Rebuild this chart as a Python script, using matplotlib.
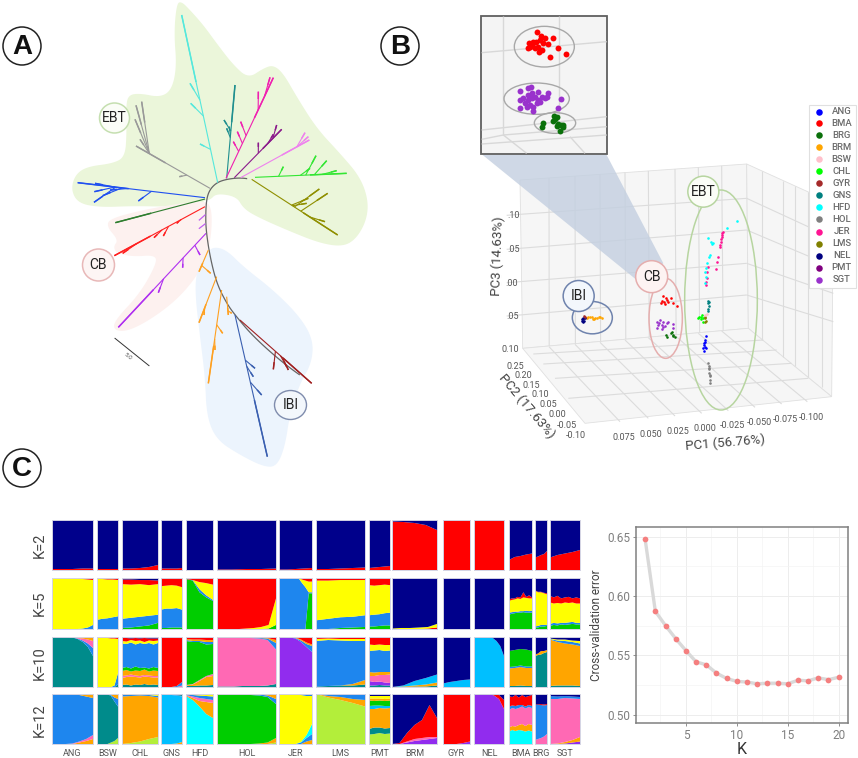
#!/usr/bin/env python3
"""Tree, 3D PCA view, admixture bars and CV error curve, redrawn in pixel space."""
import numpy as np
import matplotlib
matplotlib.use("Agg")
import matplotlib.pyplot as plt
from matplotlib.patches import Polygon, Circle, Ellipse, Rectangle
from matplotlib.collections import LineCollection

plt.rcParams["font.family"] = ["Roboto", "DejaVu Sans"]

GREEN_AREA = [(530,10),(545,5),(570,30),(610,75),(650,130),(700,195),(745,235),(790,205),(820,195),(850,220),
              (890,290),(950,385),(1020,460),(1080,530),(1105,600),(1100,660),(1070,715),(1030,740),(960,730),
              (860,690),(770,650),(730,625),(710,590),(650,580),(630,600),(615,600),(600,615),(500,620),(400,618),
              (300,622),(235,610),(213,570),(225,525),(260,500),(340,490),(375,470),(380,400),(378,320),(385,285),
              (420,280),(480,292),(515,270),(530,200),(522,100)]
PINK_AREA = [(610,600),(635,620),(635,700),(620,770),(590,830),(530,900),(450,960),(380,995),(340,990),(345,960),
             (420,880),(470,790),(465,765),(400,770),(350,760),(340,740),(355,720),(320,680),(330,655),(450,625)]
BLUE_AREA = [(640,740),(680,750),(730,800),(820,870),(900,950),(940,1020),(935,1090),(900,1150),(870,1240),
             (855,1340),(830,1400),(790,1400),(720,1365),(650,1320),(620,1250),(615,1130),(600,1010),(585,880),
             (590,810),(620,760)]
BACKBONE = [(755,538),(720,533),(678,538),(650,548),(630,568),(620,595),(617,640),(618,690),(630,770),(650,850),
            (680,910),(705,945),(760,1010),(850,1090),(935,1150)]
CLADE_COLORS = ["#55e8dc", "#1f8f8f", "#f020b0", "#8b1a8b", "#ee82ee", "#33e633", "#8f8f00", "#999999",
                "#2050f0", "#2e7d2e", "#ff2020", "#b030f0", "#ffa020", "#ffa020", "#ffa020", "#ffa020",
                "#3a5fb0", "#a02020"]
CLADE_ROOTS = [(653,548),(680,535),(678,535),(703,533),(722,533),(765,532),(755,538),(630,565),
               (615,593),(615,597),(615,620),(618,700),(625,750),(650,830),(665,870),(680,890),(705,945),(720,960)]
CLADE_TIPS = [
    [(545,45),(570,250),(572,310),(600,432)],
    [(705,255),(672,360),(680,385),(688,380)],
    [(820,233),(810,232),(775,275),(722,365),(712,395),(700,425)],
    [(845,388),(830,375),(820,403),(775,428)],
    [(928,420),(915,398),(925,410)],
    [(1040,520),(948,467),(980,482),(1010,512),(930,505),(850,500)],
    [(1013,705),(975,665),(983,580),(958,567),(925,595),(920,610)],
    [(408,438),(425,305),(408,316),(405,358),(420,418),(538,530)],
    [(233,548),(285,550),(283,575),(282,607),(308,587),(415,603),(330,570)],
    [(346,668)],
    [(343,767),(368,760),(462,713),(490,708),(530,670)],
    [(355,982),(475,878),(548,803),(600,765)],
    [(597,815),(632,820)],
    [(597,968),(612,945)],
    [(625,1150),(645,1050),(668,1000)],
    [(685,945),(695,940)],
    [(802,1370),(765,1105),(785,1185),(760,1130)],
    [(935,1150),(820,1108),(865,1110),(860,1100)],
]
SMALL_TWIGS = [((598,660),(615,645)), ((598,685),(615,672))]
SCALE_BAR = [(345,1015),(447,1097)]

# panel B
BOX_BACK = [(360,540),(1040,492),(1045,985),(368,1045)]
BOX_RIGHT = [(1040,492),(1300,610),(1295,1190),(1045,985)]
BOX_FLOOR = [(368,1045),(1045,985),(1295,1190),(555,1270)]
BACK_VERTICALS = [447,525,600,675,745,825,895,965]
BACK_LEVELS = [(643,595),(745,690),(845,790),(945,885)]
RIGHT_LEVELS = [(595,715),(690,800),(790,880),(885,965)]
RIGHT_VERTICALS = [1085,1150,1185,1225,1265]
FLOOR_ROWS = [((400,1062),(1090,1020)),((430,1092),(1130,1050)),((465,1135),(1175,1090)),((505,1195),(1225,1135))]
FLOOR_COLS = [((447,1040),(660,1265)),((525,1033),(745,1255)),((600,1027),(825,1248)),((675,1020),(905,1240)),
              ((745,1013),(985,1232)),((825,1006),(1065,1222)),((895,1000),(1145,1212)),((965,993),(1222,1205))]
Z_TICKS = [".10", ".05", ".00", ".05", "0.10"]
Z_TICK_POS = [(340,647),(340,750),(335,850),(338,950),(332,1048)]
Y_TICKS = ["0.25", "0.20", "0.15", "0.10", "0.05", "0.00", "-0.05", "-0.10"]
Y_TICK_POS = [(347,1100),(370,1128),(395,1156),(420,1184),(445,1214),(472,1244),(500,1275),(528,1308)]
X_TICKS = ["0.075", "0.050", "0.025", "0.000", "-0.025", "-0.050", "-0.075", "-0.100"]
X_TICK_POS = [(672,1313),(753,1303),(835,1295),(916,1285),(998,1277),(1078,1267),(1155,1260),(1235,1252)]

BREEDS = ["ANG","BMA","BRG","BRM","BSW","CHL","GYR","GNS","HFD","HOL","JER","LMS","NEL","PMT","SGT"]
BREED_COLORS = ["#0000ff","#ff0000","#0a700a","#ffa500","#ffc0cb","#00ff00","#a52a2a","#008080","#00ffff",
                "#808080","#ff1493","#808000","#000080","#800080","#9932cc"]
LEGEND_Y = [335,370,406,441,477,514,550,586,622,658,695,731,767,803,839]

PCA_POINTS = {
    "BRM": [(562,955),(570,952),(578,956),(585,953),(592,955),(600,950),(606,954),(575,950),(565,950),(582,957),(596,951)],
    "NEL": [(546,962),(550,958),(553,962),(548,955),(545,957),(555,955),(549,965)],
    "GYR": [(552,948),(556,951)],
    "BMA": [(790,888),(797,893),(785,903),(792,905),(800,900),(805,905),(782,908),(795,912),(812,895),(820,908),(830,917)],
    "SGT": [(770,965),(780,960),(790,965),(800,970),(775,975),(785,975),(795,978),(772,985),(785,987),(805,965),
            (820,972),(820,985),(778,968),(790,980)],
    "BRG": [(797,1005),(800,1010),(815,995),(812,1000),(820,1008),(825,1012),(818,1004)],
    "JER": [(968,695),(967,700),(966,705),(965,712),(964,718),(963,725),(961,735),(960,740),(955,770),(952,785),
            (947,808),(925,800),(922,815),(920,835),(919,845),(918,855)],
    "HFD": [(1010,662),(982,683),(925,715),(932,725),(938,728),(930,765),(926,770),(918,805),(915,815),(917,830),
            (915,850),(935,732),(921,790)],
    "GNS": [(925,902),(925,910),(926,918),(924,926),(923,932),(927,906)],
    "CHL": [(898,950),(905,945),(910,955),(902,958),(908,965),(895,955),(903,950)],
    "LMS": [(915,955),(917,962),(914,967),(916,950)],
    "BSW": [(920,942),(915,945)],
    "ANG": [(917,1008),(914,1020),(913,1030),(915,1040),(910,1045),(912,1052),(918,1045),(915,1026),(912,1036)],
    "HOL": [(925,1088),(926,1098),(927,1108),(928,1118),(930,1128),(931,1140),(931,1150),(926,1104),(929,1124)],
}
INSET_RED = [(411,95),(422,108),(400,125),(388,130),(384,145),(395,135),(408,125),(420,120),(430,130),(415,140),
             (425,150),(418,155),(405,145),(443,132),(458,115),(474,143),(497,163),(450,172),(435,115),(390,142)]
INSET_PURPLE = [(361,273),(385,265),(393,262),(383,285),(395,280),(415,275),(445,280),(484,296),(474,323),(360,300),
                (360,323),(375,310),(385,300),(395,295),(405,290),(415,300),(425,290),(435,295),(410,310),(400,320),
                (390,315),(400,332),(420,305),(440,290),(370,295),(380,320)]
INSET_GREEN = [(430,370),(425,380),(462,348),(470,352),(458,362),(465,358),(475,372),(482,376),(490,380),(480,392),
               (472,378),(490,375)]

# panel C
GROUPS = ["ANG","BSW","CHL","GNS","HFD","HOL","JER","LMS","PMT","BRM","GYR","NEL","BMA","BRG","SGT"]
GROUP_LEFT = [52,97,122,161,186,217,279,316,369,392,443,474,509,535,550]
GROUP_RIGHT = [93,118,158,182,213,276,312,365,390,437,470,504,532,547,580]
ROWS = ["K=2","K=5","K=10","K=12"]
ROW_TOP = [520,578,637,694]
ROW_BOTTOM = [570,629,687,744]
ROW_LABEL_Y = [545,603,663,720]
K_COLORS = dict(N="#00008b",R="#ff0000",Y="#ffff00",B="#1e86ee",G="#00cd00",T="#008b8b",P="#ff69b4",O="#ffa500",
                V="#912cee",S="#00bfff",C="#00ffff",L="#b3ee3a")
# colours bottom to top, then the level (%) where each band but the last ends, left to right
K2 = [("RN",[[2,2,2,3,3]]),("RN",[[3,3,3,3,3]]),("RN",[[3,3,4,6,10]]),("RN",[[3,3,3,3,4]]),("RN",[[1,1,1,1,1]]),
      ("RN",[[1,1,2,2,3]]),("RN",[[1,1,2,3,4]]),("RN",[[2,2,3,4,5]]),("RN",[[4,5,6,7,8]]),("RN",[[97,96,94,90,80]]),
      ("R",[]),("R",[]),("RN",[[20,26,28,31,33]]),("RN",[[25,27,30,32,38]]),("RN",[[25,30,33,36,40]])]
K5 = [("BYR",[[0,0,0,0,0,0,1,3,8],[100,100,100,100,99,99,98,97,96]]),
      ("BYR",[[18,20,21,23,25],[98,98,97,97,96]]),
      ("GBYRN",[[2,3,5,7,12],[20,22,24,26,28],[88,87,88,86,88],[97,97,96,96,95]]),
      ("GBYR",[[2,2,3,3,3],[38,40,40,41,38],[84,85,86,85,82]]),
      ("GBYR",[[98,95,72,62,55],[98,96,78,66,57],[98,96,92,90,87]]),
      ("GYR",[[0,0,0,0,0,0,0,1,8],[0,0,0,0,1,2,4,8,60]]),
      ("GBYR",[[0,0,0,0,0,0,0,0,0,70,70],[100,100,100,100,100,100,99,90,82,72,72],
               [100,100,100,100,100,100,100,97,95,93,93]]),
      ("GBYR",[[0,0,2,3,4],[17,20,23,24,27],[95,95,96,96,96]]),
      ("GBYRN",[[5,5,6,7,7],[27,28,29,31,32],[86,85,86,87,86],[98,98,98,99,99]]),
      ("RYN",[[0,0,0,0,1,3],[1,2,2,3,4,10]]),
      ("N",[]),("N",[]),
      ("GBYRN",[[28,30,31,32,32,33,32,32,32],[32,33,34,34,35,35,36,35,36],[55,57,58,60,59,62,61,60,60],
                [58,60,60,63,62,72,63,66,62]]),
      ("GBYRN",[[3,3,5,5,6],[5,6,8,8,8],[75,72,72,70,68],[76,73,73,71,70]]),
      ("GBYRN",[[6,8,7,9,8,9,10,9,9],[10,12,11,12,12,13,14,12,12],[52,50,51,50,52,51,52,50,50],
                [65,62,65,60,62,63,60,62,60]])]
K10 = [("TBPO",[[100,100,100,100,99,96,90,80,62],[100,100,100,100,99,97,93,87,78],[100,100,100,100,100,98,97,95,92]]),
       ("TBYR",[[0,0,0,0,0,0,5],[0,0,0,0,0,3,28],[98,98,98,98,97,97,96]]),
       ("TOPOGBYRN",[[4,5,3,5,4,6,4,5,4],[18,20,21,20,19,21,20,19,19],[22,23,25,23,22,24,23,22,22],
                     [32,34,31,33,32,35,31,33,32],[38,40,37,41,38,39,37,40,38],
                     [87,86,89,85,88,86,88,85,88],[92,91,94,92,93,90,93,92,93],[98,98,97,98,97,98,97,97,97]]),
       ("PBR",[[0,0,0,0,3],[0,0,0,2,10]]),
       ("TOPGBOR",[[2,2,3,3,4],[3,5,12,20,22],[4,6,14,22,26],[92,90,90,85,86],[94,92,92,90,90],[96,95,95,94,94]]),
       ("TPBOR",[[1,1,1,2,2,2,3,6],[98,98,98,98,98,97,94,75],[98,98,98,99,99,98,97,88],[99,99,99,99,99,99,98,94]]),
       ("VBOR",[[100,100,99,97,90,80,70],[100,100,100,98,93,86,82],[100,100,100,99,95,89,85]]),
       ("TOBYR",[[1,2,3,3,5],[1,2,3,6,14],[92,94,93,92,92],[96,97,96,96,96]]),
       ("TVPOBYRN",[[3,3,4,3,3],[12,10,11,9,8],[22,22,24,24,25],[30,29,30,30,30],[72,73,74,72,73],[85,84,85,84,84],
                    [98,98,98,98,98]]),
       ("TOSN",[[0,0,1,1,3],[0,1,3,5,9],[0,3,12,18,25]]),
       ("SN",[[7,10,12,14,15]]),
       ("SN",[[100,100,100,100,100,98,92,82,62]]),
       ("TOBGN",[[2,2,3,2,2],[37,38,40,38,38],[40,41,43,41,41],[72,74,76,75,72]]),
       ("TON",[[62,64,65,68,70],[65,67,72,72,74]]),
       ("TOBYN",[[2,3,3,3,2],[95,90,87,85,82],[96,93,92,90,87],[97,95,95,93,92]])]
K12 = [("OPBO",[[0,0,0,0,3,6,10],[0,0,0,1,5,10,18],[100,100,100,99,98,95,92]]),
       ("LTBO",[[0,0,0,0,3,6,12],[100,100,100,100,96,85,75],[100,100,100,100,98,93,90]]),
       ("LOBY",[[0,2,5,10,14],[95,96,97,96,93],[98,98,98,98,96]]),
       ("OSBT",[[0,0,0,1,4],[98,98,98,97,95],[99,99,99,98,96]]),
       ("COPBY",[[96,88,75,60,52],[97,92,86,84,82],[98,95,92,90,88],[99,98,97,96,95]]),
       ("LOGBO",[[0,0,0,0,0,0,0,3],[0,0,0,0,0,1,3,12],[99,99,99,99,98,97,94,80],[99,99,99,99,99,99,97,90]]),
       ("OBCYB",[[0,0,0,0,0,5,8],[0,0,0,0,3,12,20],[0,0,0,0,4,18,40],[100,100,100,100,98,96,96]]),
       ("LOB",[[100,93,88,82,75],[100,96,94,90,88]]),
       ("LTOSGOYN",[[19,20,22,20,21],[30,33,33,31,32],[70,70,72,71,72],[76,77,77,76,76],[87,86,87,86,87],
                    [91,91,91,90,91],[96,96,96,96,96]]),
       ("VPRN",[[0,0,3,6,8,10,12],[0,0,5,10,12,14,14],[0,2,22,38,48,78,52]]),
       ("VR",[[0,0,0,2,5]]),
       ("VRN",[[100,100,100,100,97,90,70],[100,100,100,100,99,98,88]]),
       ("COPBRN",[[25,28,26,28,27,25,27,25],[33,36,35,38,40,36,40,38],[68,72,70,72,75,71,74,72],
                  [75,77,76,78,78,75,78,76],[96,94,98,93,98,94,96,98]]),
       ("PBRN",[[8,10,12,15,20],[78,78,78,77,78],[79,79,80,79,80]]),
       ("VOPBN",[[0,0,1,3,5],[0,1,4,8,14],[90,90,92,91,90],[96,95,96,95,94]])]
K_PANELS = [K2, K5, K10, K12]

K_VALUES = list(range(1, 21))
CV_ERROR = [0.6475,0.587,0.575,0.564,0.554,0.5445,0.542,0.535,0.5305,0.528,0.5275,0.526,0.5265,0.5265,0.526,
            0.529,0.5285,0.531,0.5295,0.5315]


def a(pts):
    return [(x / 3, y / 3) for x, y in pts]


def b(pts):
    return [(400 + x / 3, y / 3) for x, y in pts]


def chaikin(pts, rounds=3, closed=True):
    p = np.array(pts, float)
    for _ in range(rounds):
        nxt = np.roll(p, -1, axis=0) if closed else p[1:]
        cur = p if closed else p[:-1]
        q, r = 0.75 * cur + 0.25 * nxt, 0.25 * cur + 0.75 * nxt
        p = np.empty((len(q) * 2, 2))
        p[0::2], p[1::2] = q, r
    return p


fig = plt.figure(figsize=(8.58, 7.58), dpi=100)
ax = fig.add_axes([0, 0, 1, 1])
ax.set_xlim(0, 858); ax.set_ylim(758, 0); ax.axis("off")

for pos, letter in zip([(22, 46), (400, 46), (22, 468)], "ABC"):
    ax.add_patch(Circle(pos, 19, fc="white", ec="#222222", lw=1.1))
    ax.text(pos[0], pos[1] + 1, letter, ha="center", va="center", fontsize=20, fontweight="bold",
            family=["Liberation Sans"], color="#111111")


def bubble(pos, r, label, ec, fc="white", fs=10):
    ax.add_patch(Circle(pos, r, fc=fc, ec=ec, lw=1.1, zorder=6))
    ax.text(pos[0], pos[1], label, ha="center", va="center", fontsize=fs, color="#222222", zorder=7)


# --- A: unrooted tree
for area, col in [(GREEN_AREA, "#ebf6da"), (PINK_AREA, "#fdf1ef"), (BLUE_AREA, "#ecf4fd")]:
    ax.add_patch(Polygon(chaikin(a(area)), closed=True, fc=col, ec="none", zorder=1))
line = chaikin(a(BACKBONE), closed=False)
ax.plot(line[:, 0], line[:, 1], color="#666666", lw=0.9, zorder=2)
for col, root, tips in zip(CLADE_COLORS, CLADE_ROOTS, CLADE_TIPS):
    r = np.array(root, float) / 3
    main = np.array(tips[0], float) / 3
    d = main - r
    segs = [[r, main]]
    for tip in tips[1:]:
        t = np.array(tip, float) / 3
        # side branch leaves the main stem shortly before the tip's own level
        s = np.clip(np.dot(t - r, d) / np.dot(d, d), 0, 1) * 0.82
        segs.append([r + s * d, t])
    ax.add_collection(LineCollection(segs, colors=col, linewidths=0.8, zorder=3))
    ends = [[np.array(sg[0]) + 0.6 * (np.array(sg[1]) - np.array(sg[0])), sg[1]] for sg in segs]
    ax.add_collection(LineCollection(ends, colors=col, linewidths=1.1, zorder=3))
for p0, p1 in SMALL_TWIGS:
    (x0, y0), (x1, y1) = a([p0, p1])
    ax.plot([x0, x1], [y0, y1], color="#c060f0", lw=0.9, zorder=3)
sb = a(SCALE_BAR)
ax.plot([sb[0][0], sb[1][0]], [sb[0][1], sb[1][1]], color="#333333", lw=0.7, zorder=3)
ax.text(128, 356, "5.0", fontsize=4.5, rotation=-38, ha="center", va="center", color="#555555")
bubble((114.5, 118), 15, "EBT", "#c5dfb0", fc="#fbfdf7")
bubble((98.5, 265), 16, "CB", "#e8b8b8", fc="#fdf5f4")
ax.add_patch(Ellipse((290.5, 405), 32, 29, fc="#f3f7fc", ec="#7f8cad", lw=1.0, zorder=6))
ax.text(290.5, 405, "IBI", ha="center", va="center", fontsize=10, color="#222222", zorder=7)

# --- B: 3D scatter
for quad in (BOX_BACK, BOX_RIGHT, BOX_FLOOR):
    ax.add_patch(Polygon(b(quad), closed=True, fc="#f6f6f6", ec="#e0e0e0", lw=0.6, zorder=1))
grid = []
for x in BACK_VERTICALS:
    f = (x - 360) / 680
    grid.append(b([(x, 540 - 48 * f), (x + 5 * f, 1045 - 60 * f)]))
for y0, y1 in BACK_LEVELS:
    grid.append(b([(320, y0 + 3), (360, y0), (1040, y1)]))
for (y0, y1) in RIGHT_LEVELS:
    grid.append(b([(1040, y0), (1300, y1)]))
for x in RIGHT_VERTICALS:
    f = (x - 1040) / 260
    grid.append(b([(x, 492 + 118 * f), (x, 985 + 205 * f)]))
for p0, p1 in FLOOR_ROWS + FLOOR_COLS:
    grid.append(b([p0, p1]))
ax.add_collection(LineCollection(grid, colors="#dcdcdc", linewidths=0.8, zorder=2))
for labs, poss in [(Z_TICKS, Z_TICK_POS), (Y_TICKS, Y_TICK_POS), (X_TICKS, X_TICK_POS)]:
    for lab, pos in zip(labs, b(poss)):
        ax.text(pos[0], pos[1], lab, ha="center", va="center", fontsize=6.5, color="#555555", zorder=5)
ax.text(400 + 975 / 3, 1328 / 3, "PC1 (56.76%)", rotation=5, ha="center", va="center", fontsize=9.5, color="#444444")
ax.text(400 + 380 / 3, 1218 / 3, "PC2 (17.63%)", rotation=-50, ha="center", va="center", fontsize=9.5, color="#444444")
ax.text(400 + 292 / 3, 768 / 3, "PC3 (14.63%)", rotation=88, ha="center", va="center", fontsize=9.5, color="#444444")
ax.add_patch(Polygon(b([(248, 465), (620, 465), (790, 790), (710, 840)]), closed=True, fc="#c3cfe0", ec="none",
                     alpha=0.8, zorder=3))
for breed, pts in PCA_POINTS.items():
    xy = np.array(b(pts))
    ax.scatter(xy[:, 0], xy[:, 1], s=3.5, color=BREED_COLORS[BREEDS.index(breed)], linewidths=0, zorder=5)
for c, w, h, col in [((577, 953), 120, 97, "#6f83ad"), ((797, 955), 100, 240, "#e5aeae"),
                     ((963, 900), 218, 660, "#b7d5a0")]:
    ax.add_patch(Ellipse(b([c])[0], w / 3, h / 3, fc="none", ec=col, lw=1.1, zorder=5))
bubble(b([(910, 575)])[0], 15.5, "EBT", "#b7d5a0", fc="#fbfdf7")
bubble(b([(755, 830)])[0], 16, "CB", "#e5aeae", fc="#fdf3f2")
bubble(b([(536, 888)])[0], 15.5, "IBI", "#6f83ad", fc="#f3f7fc")

# inset
(ix0, iy0), (ix1, iy1) = b([(244, 48), (620, 462)])
ax.add_patch(Rectangle((ix0, iy0), ix1 - ix0, iy1 - iy0, fc="#f4f4f4", ec="#5f5f5f", lw=1.3, zorder=8))
inset_lines = [[(310, 48), (310, 405)], [(477, 48), (477, 350)], [(245, 158), (620, 125)], [(245, 390), (620, 350)],
               [(245, 418), (310, 405), (620, 380)], [(245, 432), (620, 405)], [(310, 405), (380, 460)],
               [(510, 410), (555, 460)]]
ax.add_collection(LineCollection([b(l) for l in inset_lines], colors="#d8d8d8", linewidths=1.0, zorder=9))
for c, w, h in [((433, 140), 180, 122), ((410, 296), 196, 94), ((465, 369), 124, 62)]:
    ax.add_patch(Ellipse(b([c])[0], w / 3, h / 3, fc="none", ec="#a8a8a8", lw=1.0, zorder=10))
for pts, col in [(INSET_RED, "#ff0000"), (INSET_PURPLE, "#9932cc"), (INSET_GREEN, "#0a700a")]:
    xy = np.array(b(pts))
    ax.scatter(xy[:, 0], xy[:, 1], s=18, color=col, linewidths=0, zorder=11)

# legend
(lx0, ly0), (lx1, ly1) = b([(1226, 314), (1367, 863)])
ax.add_patch(Rectangle((lx0, ly0), lx1 - lx0, ly1 - ly0, fc="white", ec="#e0e0e0", lw=0.8, zorder=8))
for name, col, y in zip(BREEDS, BREED_COLORS, LEGEND_Y):
    ax.scatter([400 + 1258 / 3], [y / 3], s=22, color=col, linewidths=0, zorder=9)
    ax.text(400 + 1325 / 3, y / 3, name, ha="center", va="center", fontsize=6.8, fontweight="medium",
            color="#6a6a6a", zorder=9)

# --- C: admixture panels
for row, top, bot, ly, panels in zip(ROWS, ROW_TOP, ROW_BOTTOM, ROW_LABEL_Y, K_PANELS):
    ax.text(40, ly, row, rotation=90, ha="center", va="center", fontsize=10.5, color="#444444")
    for x0, x1, (bands, levels) in zip(GROUP_LEFT, GROUP_RIGHT, panels):
        sub = fig.add_axes([x0 / 858, 1 - bot / 758, (x1 - x0) / 858, (bot - top) / 758])
        n = len(levels[0]) if levels else 2
        lv = np.vstack([np.zeros(n)] + [np.array(l, float) for l in levels] + [np.full(n, 100.0)])
        sub.stackplot(np.linspace(0, 1, n), np.diff(lv, axis=0), colors=[K_COLORS[c] for c in bands], linewidth=0)
        sub.set_xlim(0, 1); sub.set_ylim(0, 100)
        sub.set_xticks([]); sub.set_yticks([])
        for sp in sub.spines.values():
            sp.set_color("#d4d4e4"); sp.set_linewidth(0.7)
for name, x0, x1 in zip(GROUPS, GROUP_LEFT, GROUP_RIGHT):
    ax.text((x0 + x1) / 2, 753, name, ha="center", va="center", fontsize=6.5, color="#555555")

# --- C: cross-validation error
cv = fig.add_axes([636 / 858, 1 - 723 / 758, 212 / 858, 196 / 758])
cv.plot(K_VALUES, CV_ERROR, color="#d9d9d9", lw=2.4, zorder=2)
cv.scatter(K_VALUES, CV_ERROR, s=17, color="#f57f7f", linewidths=0, zorder=3)
cv.set_xlim(0.1, 20.92); cv.set_ylim(0.493, 0.658)
cv.set_xticks([5, 10, 15, 20]); cv.set_yticks([0.50, 0.55, 0.60, 0.65])
cv.set_yticklabels(["0.50", "0.55", "0.60", "0.65"])
cv.set_xticks([2.5, 7.5, 12.5, 17.5], minor=True); cv.set_yticks([0.525, 0.575, 0.625], minor=True)
cv.grid(True, which="major", color="#ededed", lw=0.7); cv.grid(True, which="minor", color="#f4f4f4", lw=0.5)
cv.set_axisbelow(True)
cv.tick_params(which="minor", length=0)
cv.tick_params(which="major", colors="#7f7f7f", labelsize=8.5, length=2, width=0.6, pad=2)
for sp in cv.spines.values():
    sp.set_color("#808080"); sp.set_linewidth(1.1)
cv.set_xlabel("K", fontsize=11.5, color="#333333", labelpad=0)
cv.set_ylabel("Cross-validation error", fontsize=8.5, color="#444444", labelpad=3)

fig.savefig("out.png", dpi=100)
